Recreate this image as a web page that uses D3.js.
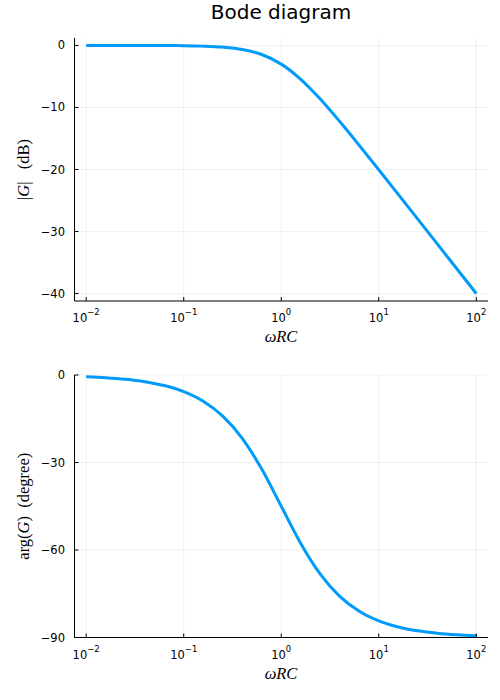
<!DOCTYPE html>
<html>
<head>
<meta charset="utf-8">
<script src="https://cdn.jsdelivr.net/npm/d3@7"></script>
<style>
  body { margin: 0; background: #fff; }
  .tick-label { font-family: "DejaVu Sans", sans-serif; font-size: 11.5px; fill: #000; }
  .math { font-family: "Liberation Serif", "DejaVu Serif", serif; font-size: 16.5px; fill: #000; white-space: pre; }
</style>
</head>
<body>
<div id="chart"></div>
<script>
// log10(omega RC) sample points
var logOmega = [-2, -1.8, -1.6, -1.4, -1.2, -1, -0.8, -0.6, -0.4, -0.2, 0,
  0.2, 0.4, 0.6, 0.8, 1, 1.2, 1.4, 1.6, 1.8, 2];
// gain |G| in dB
var gainDb = [0.0, 0.0, 0.0, -0.01, -0.02, -0.04, -0.11, -0.27, -0.64, -1.46, -3.01,
  -5.46, -8.64, -12.27, -16.11, -20.04, -24.02, -28.01, -32.0, -36.0, -40.0];
// phase arg(G) in degrees
var phaseDeg = [-0.57, -0.91, -1.44, -2.28, -3.61, -5.71, -9.01, -14.1, -21.71, -32.25, -45,
  -57.75, -68.29, -75.9, -80.99, -84.29, -86.39, -87.72, -88.56, -89.09, -89.43];

var xTicks = [-2, -1, 0, 1, 2];
var gainTicks = [0, -10, -20, -30, -40];
var phaseTicks = [0, -30, -60, -90];

var W = 500, H = 700;
var svg = d3.select("#chart").append("svg").attr("width", W).attr("height", H);

svg.append("text")
  .attr("x", 281).attr("y", 18.5)
  .attr("text-anchor", "middle")
  .style("font-family", "DejaVu Sans, sans-serif")
  .style("font-size", "20px")
  .text("Bode diagram");

function drawPanel(opts) {
  var x = d3.scaleLinear().domain([-2.12, 2.12]).range([74.5, 488]);
  var y = d3.scaleLinear().domain(opts.yDomain).range([opts.bottom, opts.top]);
  var g = svg.append("g");

  // grid
  g.selectAll(".vgrid").data(xTicks).enter().append("line")
    .attr("x1", function (d) { return x(d); }).attr("x2", function (d) { return x(d); })
    .attr("y1", opts.top).attr("y2", opts.bottom)
    .attr("stroke", "#000").attr("stroke-opacity", 0.1).attr("stroke-width", 0.6);
  g.selectAll(".hgrid").data(opts.yTicks).enter().append("line")
    .attr("x1", 74.5).attr("x2", 488)
    .attr("y1", function (d) { return y(d); }).attr("y2", function (d) { return y(d); })
    .attr("stroke", "#000").attr("stroke-opacity", 0.1).attr("stroke-width", 0.6);

  // curve
  var pts = logOmega.map(function (k, i) { return [k, opts.values[i]]; });
  g.append("path")
    .datum(pts)
    .attr("fill", "none")
    .attr("stroke", "#009afa")
    .attr("stroke-width", 3)
    .attr("d", d3.line()
      .x(function (d) { return x(d[0]); })
      .y(function (d) { return y(d[1]); })
      .curve(d3.curveMonotoneX));

  // axes lines
  g.append("line").attr("x1", 74.5).attr("x2", 74.5)
    .attr("y1", opts.top).attr("y2", opts.bottom)
    .attr("stroke", "#000").attr("stroke-width", 1);
  g.append("line").attr("x1", 74.5).attr("x2", 488)
    .attr("y1", opts.bottom).attr("y2", opts.bottom)
    .attr("stroke", "#000").attr("stroke-width", 1);

  // x ticks
  g.selectAll(".xt").data(xTicks).enter().append("line")
    .attr("x1", function (d) { return x(d); }).attr("x2", function (d) { return x(d); })
    .attr("y1", opts.bottom).attr("y2", opts.bottom - 4)
    .attr("stroke", "#000").attr("stroke-width", 1);
  var xl = g.selectAll(".xl").data(xTicks).enter().append("text")
    .attr("class", "tick-label")
    .attr("x", function (d) { return x(d); })
    .attr("y", opts.bottom + 21)
    .attr("text-anchor", "middle");
  xl.append("tspan").text("10");
  xl.append("tspan")
    .attr("dy", -7)
    .style("font-size", "8.5px")
    .text(function (d) { return String(d).replace("-", "\u2212"); });

  // y ticks
  g.selectAll(".yt").data(opts.yTicks).enter().append("line")
    .attr("x1", 74.5).attr("x2", 78.5)
    .attr("y1", function (d) { return y(d); }).attr("y2", function (d) { return y(d); })
    .attr("stroke", "#000").attr("stroke-width", 1);
  g.selectAll(".yl").data(opts.yTicks).enter().append("text")
    .attr("class", "tick-label")
    .attr("x", 65)
    .attr("y", function (d) { return y(d) + 4; })
    .attr("text-anchor", "end")
    .text(function (d) { return String(d).replace("-", "\u2212"); });

  // x label
  g.append("text").attr("class", "math")
    .attr("x", 281).attr("y", opts.bottom + 41)
    .attr("text-anchor", "middle")
    .style("font-style", "italic")
    .text("\u03c9RC");

  // y label
  var ylab = g.append("text").attr("class", "math")
    .attr("transform", "translate(29," + ((opts.top + opts.bottom) / 2) + ") rotate(-90)")
    .attr("text-anchor", "middle");
  opts.ylabel.forEach(function (p) {
    ylab.append("tspan")
      .style("font-style", p.italic ? "italic" : "normal")
      .text(p.t);
  });
}

drawPanel({
  top: 38, bottom: 301,
  yDomain: [-41.2, 1.2],
  yTicks: gainTicks,
  values: gainDb,
  ylabel: [{ t: "|" }, { t: "G", italic: true }, { t: "|   (dB)" }]
});

drawPanel({
  top: 375, bottom: 637.5,
  yDomain: [-90, 0],
  yTicks: phaseTicks,
  values: phaseDeg,
  ylabel: [{ t: "arg(" }, { t: "G", italic: true }, { t: ")  (degree)" }]
});
</script>
</body>
</html>
